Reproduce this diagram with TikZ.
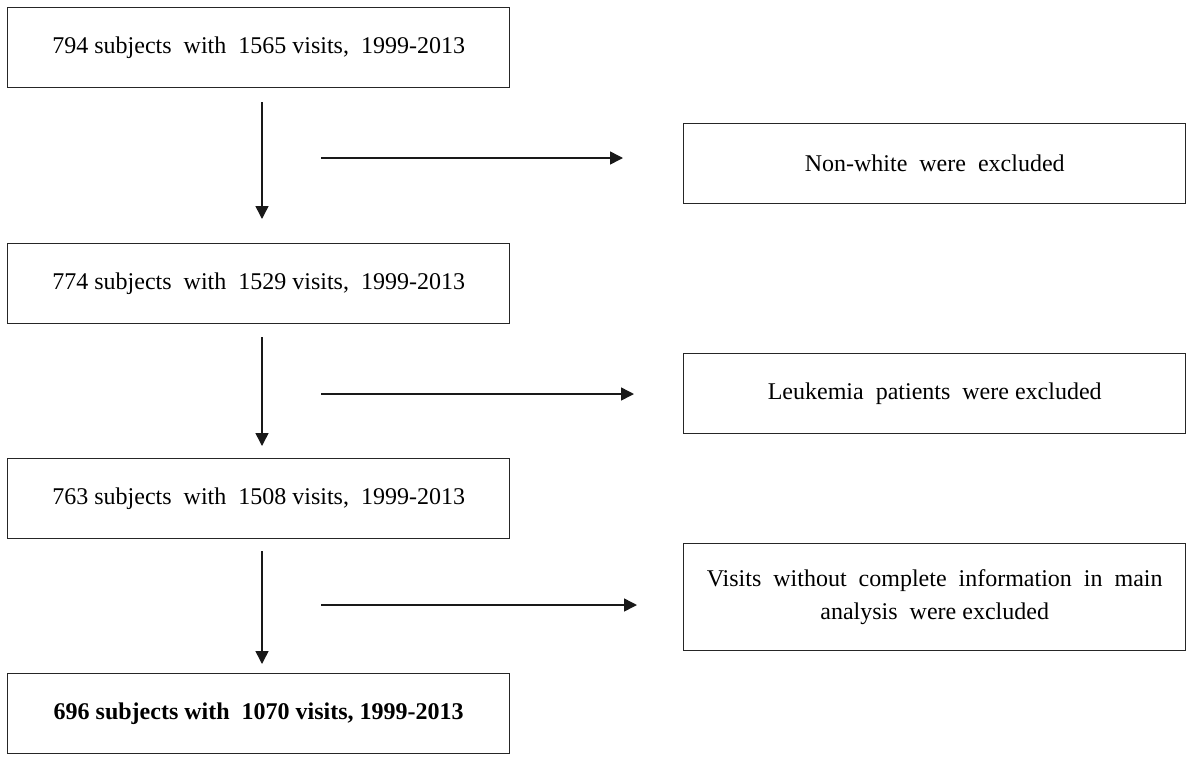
\documentclass[tikz,border=0pt]{standalone}
\usepackage{fontspec}
\setmainfont{Liberation Serif}
\usetikzlibrary{arrows.meta}
\begin{document}
\begin{tikzpicture}[x=1pt,y=-1pt,
  box/.style={draw=black!85,line width=1.4pt,minimum width=502pt,minimum height=80pt,inner sep=0pt,anchor=north west,font=\fontsize{24}{28}\selectfont,align=center},
  arr/.style={line width=1.5pt,draw=black!90,-{Triangle[length=13pt,width=13pt]}}]
\useasboundingbox (0,0) rectangle (1200,761);
\node[box] (b1) at (7,7) {794 subjects\ \ with\ \ 1565 visits,\ \ 1999-2013};
\node[box] (b2) at (7,243) {774 subjects\ \ with\ \ 1529 visits,\ \ 1999-2013};
\node[box] (b3) at (7,458) {763 subjects\ \ with\ \ 1508 visits,\ \ 1999-2013};
\node[box,font=\fontsize{24}{28}\selectfont\bfseries] (b4) at (7,673) {696 subjects with\ \ 1070 visits, 1999-2013};
\node[box] (r1) at (683,123) {Non-white\ \ were\ \ excluded};
\node[box] (r2) at (683,353) {Leukemia\ \ patients\ \ were excluded};
\node[box,minimum height=107pt,font=\fontsize{24}{33}\selectfont] (r3) at (683,543) {Visits\ \ without\ \ complete\ \ information\ \ in\ \ main\\ analysis\ \ were excluded};
\coordinate (v1s) at (262,102); \coordinate (v1e) at (262,219);
\coordinate (v2s) at (262,337); \coordinate (v2e) at (262,446);
\coordinate (v3s) at (262,551); \coordinate (v3e) at (262,664);
\coordinate (h1s) at (321,158); \coordinate (h1e) at (623,158);
\coordinate (h2s) at (321,394); \coordinate (h2e) at (634,394);
\coordinate (h3s) at (321,605); \coordinate (h3e) at (637,605);
\draw[arr] (v1s) -- (v1e);
\draw[arr] (v2s) -- (v2e);
\draw[arr] (v3s) -- (v3e);
\draw[arr] (h1s) -- (h1e);
\draw[arr] (h2s) -- (h2e);
\draw[arr] (h3s) -- (h3e);
\end{tikzpicture}
\end{document}
